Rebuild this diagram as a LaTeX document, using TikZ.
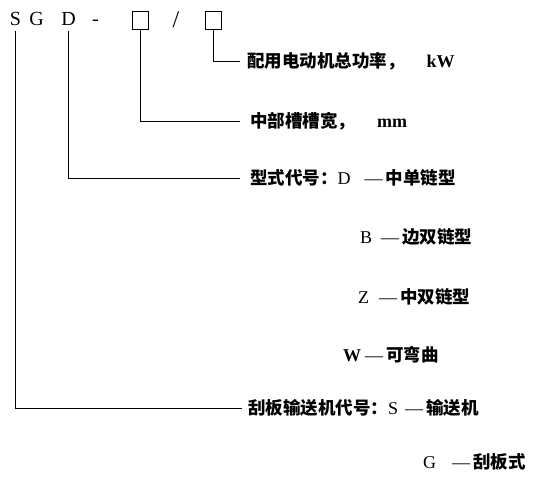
\documentclass[tikz,border=0pt]{standalone}
\usepackage{fontspec}
\setmainfont{Liberation Serif}
\newfontfamily\cjk{Noto Sans CJK SC}
\newcommand\lat[1]{{\rmfamily\mdseries\fontsize{18}{20}\selectfont #1}}
\newcommand\latb[1]{{\rmfamily\bfseries\fontsize{18}{20}\selectfont #1}}
\newcommand\emd{\makebox[21pt][l]{\lat{—}}}
\tikzset{
  lbl/.style={anchor=west, inner sep=0pt, font=\fontsize{17.5}{20}\selectfont\cjk\bfseries},
  topch/.style={inner sep=0pt, anchor=base, font=\fontsize{20}{24}\selectfont},
  conn/.style={line width=0.7pt, line join=miter},
  sq/.style={draw, line width=0.8pt, minimum width=16pt, minimum height=18pt, inner sep=0pt}
}
\begin{document}
\begin{tikzpicture}[x=1pt,y=-1pt]
\useasboundingbox (0,0) rectangle (537,476);
% top code
\node[topch] (S) at (15.5,25.5) {S};
\node[topch] (G) at (36.5,25.5) {G};
\node[topch] (D) at (68.5,25.5) {D};
\node[topch] (hy) at (95.5,25.5) {-};
\node[sq] (b1) at (140,20) {};
\node[topch, font=\fontsize{24}{26}\selectfont] (sl) at (176,28) {/};
\node[sq] (b2) at (213.5,20) {};
% labels
\node[lbl] (l1) at (247,61) {配用电动机总功率，\hspace{22pt}\latb{kW}};
\node[lbl] (l2) at (250,121) {中部槽槽宽，\hspace{22pt}\latb{mm}};
\node[lbl] (l3) at (250,178) {型式代号：\lat{D}\hspace{14pt}\emd 中单链型};
\node[lbl] (lB) at (360,237) {\lat{B}\hspace{9pt}\emd 边双链型};
\node[lbl] (lZ) at (358,297) {\lat{Z}\hspace{10pt}\emd 中双链型};
\node[lbl] (lW) at (343,355) {\latb{W}\hspace{4pt}\emd 可弯曲};
\node[lbl] (l4) at (248,408) {刮板输送机代号：\lat{S}\hspace{7pt}\emd 输送机};
\node[lbl] (lG) at (423,462) {\lat{G}\hspace{16pt}\emd 刮板式};
% connectors
\draw[conn] (b2.south) |- ([xshift=-7pt]l1.west);
\draw[conn] (b1.south) |- ([xshift=-10pt]l2.west);
\draw[conn] ([yshift=-6pt]D.base) |- ([xshift=-10pt]l3.west);
\draw[conn] ([yshift=-6pt]S.base) |- ([xshift=-6pt]l4.west);
\end{tikzpicture}
\end{document}
